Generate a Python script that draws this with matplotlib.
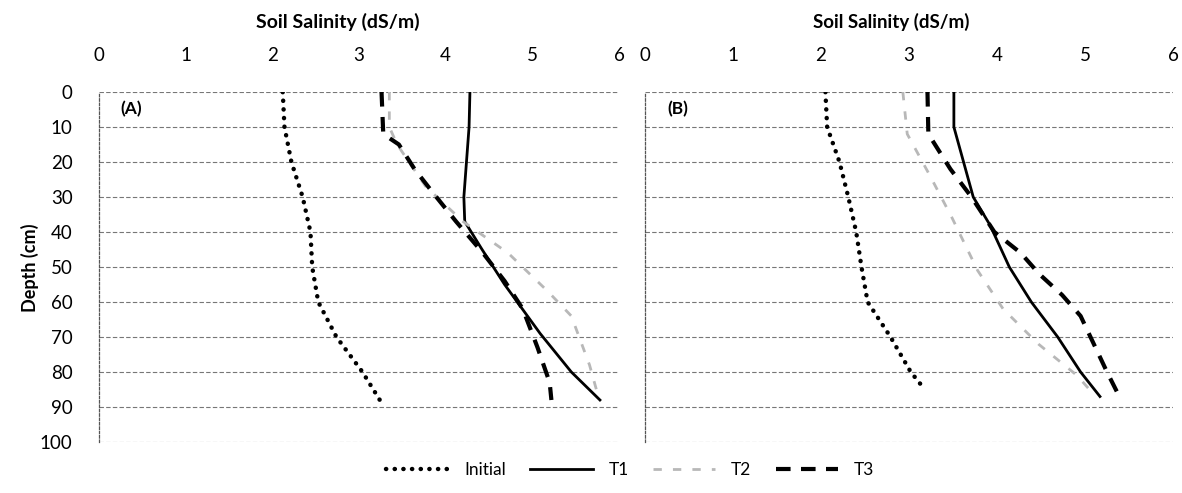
import matplotlib
matplotlib.use('Agg')
import matplotlib.pyplot as plt

plt.rcParams['font.family'] = ['Lato', 'DejaVu Sans']

# Panel A: depth (cm) and salinity (dS/m)
a_init_depth = [0, 10, 20, 30, 40, 50, 60, 70, 80, 88]
a_init_val = [2.12, 2.14, 2.22, 2.35, 2.44, 2.46, 2.53, 2.74, 3.04, 3.24]
a_t1_depth = [0, 10, 20, 30, 37, 45, 55, 69, 80, 88]
a_t1_val = [4.28, 4.27, 4.24, 4.21, 4.22, 4.42, 4.68, 5.09, 5.45, 5.78]
a_t2_depth = [0, 10, 15, 27, 37, 46, 57, 64, 78, 86]
a_t2_val = [3.35, 3.35, 3.44, 3.77, 4.2, 4.72, 5.18, 5.45, 5.66, 5.75]
a_t3_depth = [0, 12, 15, 22, 29, 37, 46, 54, 62, 73, 83, 88]
a_t3_val = [3.26, 3.28, 3.46, 3.64, 3.86, 4.12, 4.43, 4.68, 4.89, 5.06, 5.2, 5.22]

# Panel B
b_init_depth = [0, 10, 20, 30, 40, 50, 60, 70, 80, 85]
b_init_val = [2.05, 2.07, 2.21, 2.31, 2.4, 2.46, 2.53, 2.79, 3.02, 3.18]
b_t1_depth = [0, 10, 20, 30, 38, 50, 60, 70, 80, 87]
b_t1_val = [3.51, 3.51, 3.62, 3.73, 3.92, 4.14, 4.39, 4.69, 4.95, 5.17]
b_t2_depth = [0, 12, 24, 36, 51, 62, 72, 81, 85]
b_t2_val = [2.93, 2.98, 3.24, 3.49, 3.78, 4.07, 4.47, 4.91, 5.05]
b_t3_depth = [0, 12, 16, 22, 30, 40, 46, 52, 58, 64, 72, 80, 87]
b_t3_val = [3.21, 3.22, 3.32, 3.47, 3.71, 3.97, 4.27, 4.48, 4.74, 4.95, 5.1, 5.25, 5.39]

x_ticks = [0, 1, 2, 3, 4, 5, 6]
y_ticks = [0, 10, 20, 30, 40, 50, 60, 70, 80, 90, 100]

fig = plt.figure(figsize=(11.82, 4.93), dpi=100)
axA = fig.add_axes([99 / 1182, 1 - 442 / 493, 520 / 1182, 350 / 493])
axB = fig.add_axes([645 / 1182, 1 - 442 / 493, 528 / 1182, 350 / 493])

panels = [
    (axA, '(A)', a_init_depth, a_init_val, a_t1_depth, a_t1_val,
     a_t2_depth, a_t2_val, a_t3_depth, a_t3_val),
    (axB, '(B)', b_init_depth, b_init_val, b_t1_depth, b_t1_val,
     b_t2_depth, b_t2_val, b_t3_depth, b_t3_val),
]

for ax, tag, d0, v0, d1, v1, d2, v2, d3, v3 in panels:
    l0, = ax.plot(v0, d0, color='black', lw=3.2, linestyle=(0, (0.05, 1.9)),
                  dash_capstyle='round', label='Initial')
    l1, = ax.plot(v1, d1, color='black', lw=2.0, label='T1')
    l2, = ax.plot(v2, d2, color='#b8b8b8', lw=2.0, linestyle=(0, (3, 4)), label='T2')
    l3, = ax.plot(v3, d3, color='black', lw=3.0, linestyle=(0, (3.5, 2.5)), label='T3')
    ax.set_xlim(0, 6)
    ax.set_ylim(100, 0)
    ax.set_yticks(y_ticks)
    ax.set_xticks(x_ticks)
    ax.xaxis.tick_top()
    ax.tick_params(axis='x', length=0, pad=20, labelsize=13.5)
    ax.tick_params(axis='y', length=0, pad=19, labelsize=13.5)
    ax.grid(axis='y', color='#777777', lw=0.8, linestyle=(0, (4, 2)))
    for s in ['top', 'right', 'bottom']:
        ax.spines[s].set_visible(False)
    ax.spines['left'].set_linestyle((0, (2, 1.5)))
    ax.spines['left'].set_color('#555555')
    ax.spines['left'].set_linewidth(0.9)
    ax.text(0.25, 5, tag, fontsize=12.5, fontweight='bold', va='center')

axB.tick_params(axis='y', labelleft=False)

fig.text(338 / 1182, 1 - 22 / 493, 'Soil Salinity (dS/m)', ha='center', va='center',
         fontsize=14, fontweight='bold')
fig.text(891 / 1182, 1 - 22 / 493, 'Soil Salinity (dS/m)', ha='center', va='center',
         fontsize=13.5, fontweight='bold')
fig.text(30 / 1182, 1 - 268 / 493, 'Depth (cm)', rotation=90, ha='center', va='center',
         fontsize=13, fontweight='bold')

fig.legend(handles=[l0, l1, l2, l3], loc='center', bbox_to_anchor=(630 / 1182, 1 - 470 / 493),
           ncol=4, frameon=False, fontsize=12.5, handlelength=3.6, columnspacing=1.4,
           handletextpad=0.9)

fig.savefig('out.png', dpi=100)
